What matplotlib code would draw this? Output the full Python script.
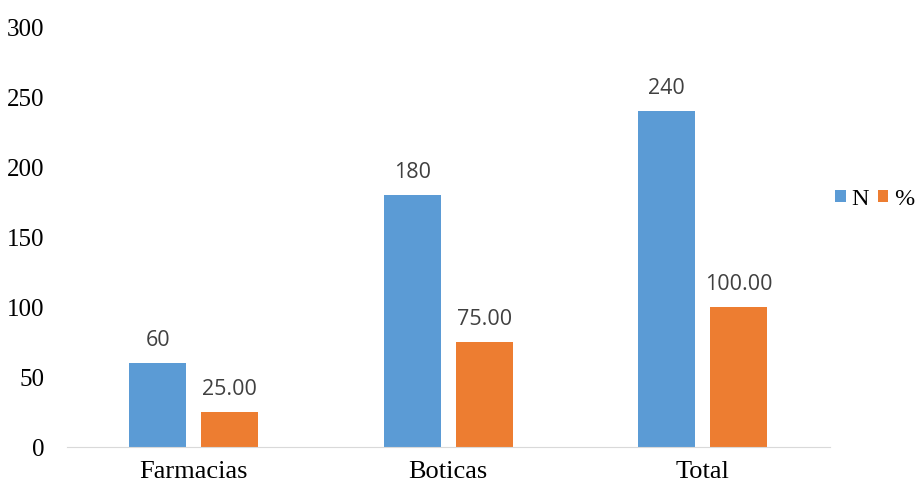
import matplotlib.pyplot as plt
import numpy as np

categories = ["Farmacias", "Boticas", "Total"]
n_vals = [60, 180, 240]
pct_vals = [25.00, 75.00, 100.00]
n_labels = ["60", "180", "240"]
pct_labels = ["25.00", "75.00", "100.00"]

blue = "#5B9BD5"
orange = "#ED7D31"


def main():
    fig = plt.figure(figsize=(9.19, 4.86), dpi=100)
    ax = fig.add_axes([0.0724, 0.0802, 0.8308, 0.8642])
    x = np.arange(len(categories))
    w = 0.224
    off = 0.1415
    b1 = ax.bar(x - off, n_vals, w, color=blue, label="N")
    b2 = ax.bar(x + off, pct_vals, w, color=orange, label="%")
    for bars, labs in ((b1, n_labels), (b2, pct_labels)):
        for b, t in zip(bars, labs):
            ax.annotate(t, (b.get_x() + b.get_width() / 2, b.get_height()),
                        xytext=(0, 9), textcoords="offset points",
                        ha="center", va="bottom", fontsize=15.5,
                        family="Open Sans", color="#404040")
    ax.set_xlim(-0.5, 2.5)
    ax.set_ylim(0, 300)
    ax.set_yticks(range(0, 301, 50))
    ax.set_xticks(x)
    ax.set_xticklabels(categories)
    for lab in ax.get_yticklabels():
        lab.set_family("Liberation Serif")
        lab.set_fontsize(18)
    for lab in ax.get_xticklabels():
        lab.set_family("Liberation Serif")
        lab.set_fontsize(19)
    for s in ["top", "right", "left"]:
        ax.spines[s].set_visible(False)
    ax.spines["bottom"].set_color("#d9d9d9")
    ax.tick_params(axis="both", length=0)
    ax.tick_params(axis="y", pad=16)
    ax.tick_params(axis="x", pad=10)
    ax.legend(loc="center left", bbox_to_anchor=(0.909, 0.59),
              bbox_transform=fig.transFigure, frameon=False, borderpad=0,
              borderaxespad=0, ncol=2, handlelength=0.42, handleheight=0.42,
              handletextpad=0.22, columnspacing=0.4,
              prop={"family": "Liberation Serif", "size": 17.5})
    fig.savefig("out.png", dpi=100)


if __name__ == '__main__':
    main()
